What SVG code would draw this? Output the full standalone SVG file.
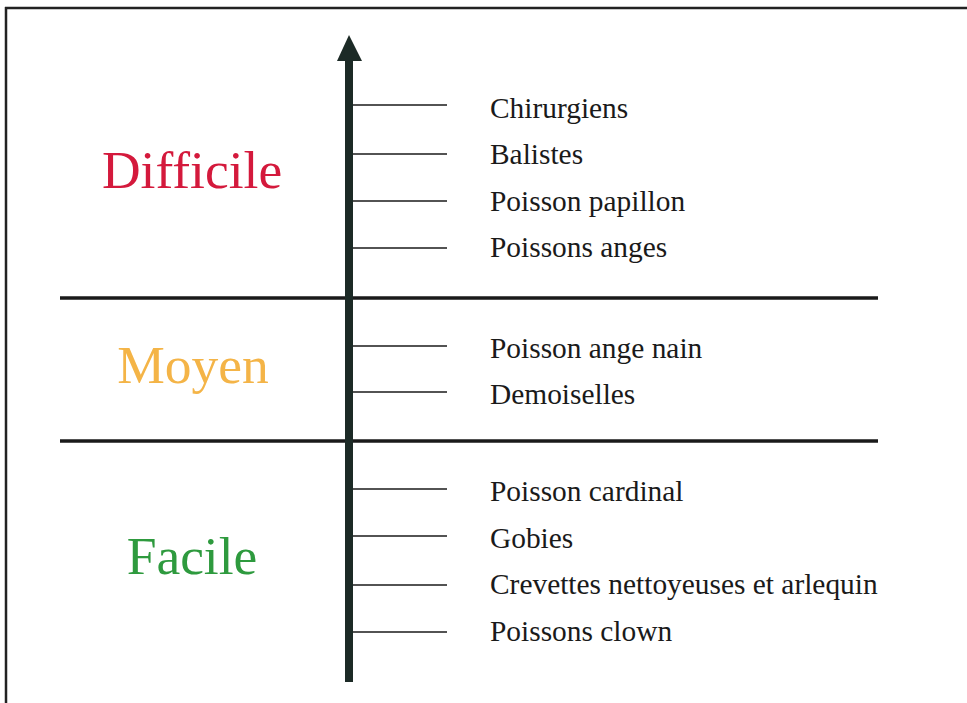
<svg xmlns="http://www.w3.org/2000/svg" width="967" height="703" viewBox="0 0 967 703">
<style>
.lbl{font-family:"Liberation Serif","Times New Roman",serif;font-size:29.4px;fill:#1a1a1a}
.cat{font-family:"Liberation Serif","Times New Roman",serif;font-size:53.5px;text-anchor:middle}
.tick{stroke:#1a1a1a;stroke-width:1.6}
.band{stroke:#1a1a1a;stroke-width:3.5}
</style>
<rect width="967" height="703" fill="#ffffff"/>
<g id="frame">
<line x1="5" y1="8" x2="967" y2="8" stroke="#222" stroke-width="2.5"/>
<line x1="6" y1="7" x2="6" y2="703" stroke="#222" stroke-width="2.5"/>
</g>
<g id="connectors">
<line class="band" x1="60" y1="298" x2="878" y2="298"/>
<line class="band" x1="60" y1="441" x2="878" y2="441"/>
<line x1="349" y1="58" x2="349" y2="682" stroke="#1c2a26" stroke-width="8"/>
<polygon points="349,35 337,61 362,61" fill="#1c2a26"/>
<line class="tick" x1="353" y1="105" x2="447" y2="105"/>
<line class="tick" x1="353" y1="154" x2="447" y2="154"/>
<line class="tick" x1="353" y1="201" x2="447" y2="201"/>
<line class="tick" x1="353" y1="248" x2="447" y2="248"/>
<line class="tick" x1="353" y1="346" x2="447" y2="346"/>
<line class="tick" x1="353" y1="392" x2="447" y2="392"/>
<line class="tick" x1="353" y1="489" x2="447" y2="489"/>
<line class="tick" x1="353" y1="536" x2="447" y2="536"/>
<line class="tick" x1="353" y1="585" x2="447" y2="585"/>
<line class="tick" x1="353" y1="632" x2="447" y2="632"/>
</g>
<g id="difficile"><text class="cat" x="192" y="188" fill="#d4193c">Difficile</text></g>
<g id="moyen"><text class="cat" x="193" y="383" fill="#f4b447">Moyen</text></g>
<g id="facile"><text class="cat" x="192" y="574" fill="#2e9a3e">Facile</text></g>
<g id="chirurgiens"><text class="lbl" x="490" y="118">Chirurgiens</text></g>
<g id="balistes"><text class="lbl" x="490" y="164">Balistes</text></g>
<g id="papillon"><text class="lbl" x="490" y="211">Poisson papillon</text></g>
<g id="anges"><text class="lbl" x="490" y="257">Poissons anges</text></g>
<g id="ange-nain"><text class="lbl" x="490" y="358">Poisson ange nain</text></g>
<g id="demoiselles"><text class="lbl" x="490" y="404">Demoiselles</text></g>
<g id="cardinal"><text class="lbl" x="490" y="501">Poisson cardinal</text></g>
<g id="gobies"><text class="lbl" x="490" y="548">Gobies</text></g>
<g id="crevettes"><text class="lbl" x="490" y="594">Crevettes nettoyeuses et arlequin</text></g>
<g id="clown"><text class="lbl" x="490" y="641">Poissons clown</text></g>
</svg>
